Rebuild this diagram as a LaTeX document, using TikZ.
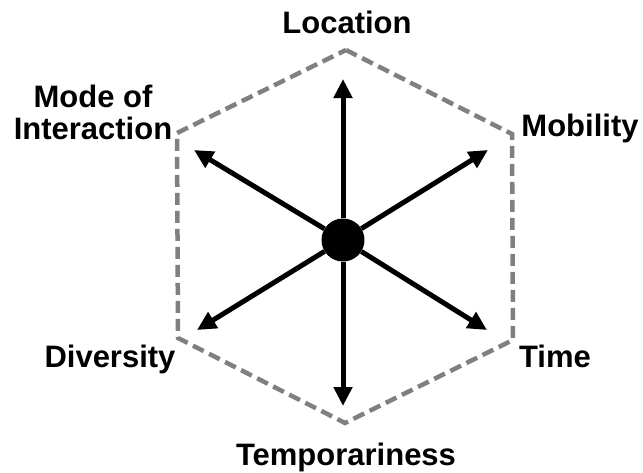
\documentclass[tikz,border=0pt]{standalone}
\usepackage{fontspec}
\setmainfont{Liberation Sans}
\usetikzlibrary{arrows.meta}
\definecolor{HexGray}{RGB}{128,128,128}
\colorlet{SpokeBlack}{black}

\begin{document}
\begin{tikzpicture}[x=1pt,y=-1pt,
    lbl/.style={font=\fontsize{31}{32}\selectfont\bfseries,inner sep=0pt,align=center},
    spoke/.style={-{Triangle[length=19pt,width=18pt]},line width=5pt,SpokeBlack},
    hexline/.style={HexGray,line width=4.5pt,dash pattern=on 12pt off 6pt}]
  \useasboundingbox (0,0) rectangle (643,472);
  % hexagon corners
  \coordinate (vTop) at (346,50);
  \coordinate (vUR) at (512,134);
  \coordinate (vLR) at (513,340);
  \coordinate (vBot) at (345,423);
  \coordinate (vLL) at (178,338);
  \coordinate (vUL) at (177,133);
  \draw[hexline] (vTop) -- (vUR) -- (vLR) -- (vBot) -- (vLL) -- (vUL) -- cycle;
  % hub and spokes
  \node[circle,fill=SpokeBlack,minimum size=43pt,inner sep=0pt] (hub) at (343,240) {};
  \coordinate (aLoc) at (343,79);
  \coordinate (aMob) at (488,150);
  \coordinate (aTime) at (487,330);
  \coordinate (aTemp) at (343,406);
  \coordinate (aDiv) at (197,330);
  \coordinate (aMode) at (194,150);
  \foreach \tip in {aLoc,aMob,aTime,aTemp,aDiv,aMode}
    \draw[spoke] (hub) -- (\tip);
  % labels
  \node[lbl,anchor=base] (loc) at (347,33) {Location};
  \node[lbl,anchor=base] (mob) at (580,136) {Mobility};
  \node[lbl,anchor=base] (time) at (555,367) {Time};
  \node[lbl,anchor=base] (temp) at (346,465) {Temporariness};
  \node[lbl,anchor=base] (div) at (110,367) {Diversity};
  \node[lbl] (mode) at (93,112) {Mode of\\Interaction};
\end{tikzpicture}
\end{document}
